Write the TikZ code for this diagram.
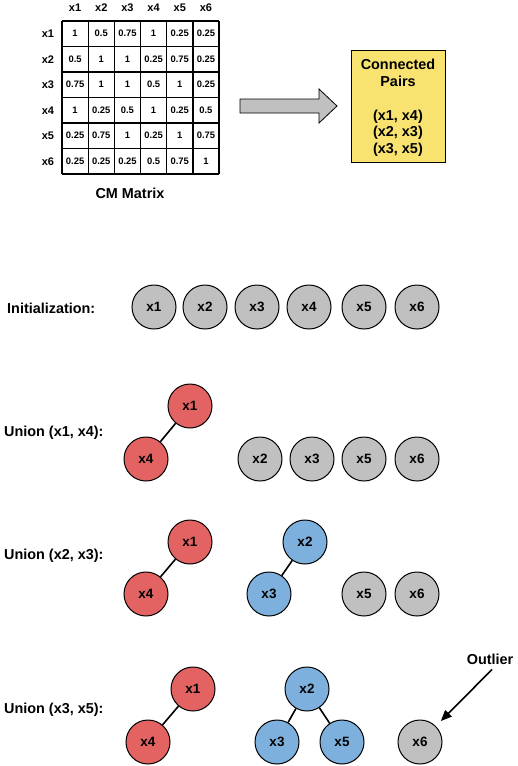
\documentclass[tikz,border=0pt]{standalone}
\usepackage{fontspec}
\setmainfont{Liberation Sans}
\usetikzlibrary{arrows.meta}
\definecolor{nodegray}{RGB}{192,192,192}
\definecolor{nodered}{RGB}{227,99,99}
\definecolor{nodeblue}{RGB}{126,176,222}
\definecolor{pairyellow}{RGB}{248,226,112}
\begin{document}
\begin{tikzpicture}[x=1pt,y=-1pt,
  elem/.style={circle, draw, line width=1pt, minimum size=44pt, inner sep=0pt, font=\fontsize{13.5}{16}\selectfont\bfseries},
  grayel/.style={elem, fill=nodegray},
  redel/.style={elem, fill=nodered},
  blueel/.style={elem, fill=nodeblue},
  rowlabel/.style={anchor=west, inner sep=0pt, font=\fontsize{14.4}{17}\selectfont\bfseries},
  link/.style={line width=1.6pt},
  gridline/.style={line width=1.3pt},
  hdr/.style={inner sep=0pt, font=\fontsize{11}{13}\selectfont\bfseries},
  cellnum/.style={inner sep=0pt, font=\fontsize{9.4}{11}\selectfont\bfseries},
  boxtext/.style={align=center, inner sep=0pt, font=\fontsize{14.4}{16.8}\selectfont\bfseries}
]
\useasboundingbox (0,0) rectangle (517,766);

% ---- CM matrix ----
\foreach \i in {0,...,6} {
  \draw[gridline] ({62+26.17*\i},21) -- ({62+26.17*\i},174);
  \draw[gridline] (62,{21+25.5*\i}) -- (219,{21+25.5*\i});
}
\foreach \c in {1,...,6} {
  \node[hdr] (col\c) at ({62+26.17*(\c-0.5)}, 8) {x\c};
  \node[hdr] (row\c) at (48, {21+25.5*(\c-0.5)}) {x\c};
}
\foreach \rowvals [count=\r] in {{1,0.5,0.75,1,0.25,0.25},{0.5,1,1,0.25,0.75,0.25},{0.75,1,1,0.5,1,0.25},{1,0.25,0.5,1,0.25,0.5},{0.25,0.75,1,0.25,1,0.75},{0.25,0.25,0.25,0.5,0.75,1}} {
  \foreach \v [count=\c] in \rowvals {
    \node[cellnum] (m\r\c) at ({62+26.17*(\c-0.5)}, {21+25.5*(\r-0.5)}) {\v};
  }
}
\node[inner sep=0pt, font=\fontsize{14.4}{17}\selectfont\bfseries] (cmlabel) at (130,193) {CM Matrix};

% ---- big arrow ----
\draw[fill=nodegray, line width=0.8pt] (240,99) -- (319,99) -- (319,89) -- (337,106) -- (319,123) -- (319,113) -- (240,113) -- cycle;

% ---- connected pairs box ----
\node[draw, fill=pairyellow, line width=1pt, minimum width=94pt, minimum height=112pt, anchor=north west, inner sep=0pt] (pairs) at (351,50) {};
\node[boxtext] (pairstext) at (398,108) {Connected\\Pairs\\[16.8pt](x1, x4)\\(x2, x3)\\(x3, x5)};

% ---- Initialization ----
\node[rowlabel] (linit) at (7,308) {Initialization:};
\node[grayel] (i1) at (154,307) {x1};
\node[grayel] (i2) at (205,307) {x2};
\node[grayel] (i3) at (257,307) {x3};
\node[grayel] (i4) at (309,307) {x4};
\node[grayel] (i5) at (364,307) {x5};
\node[grayel] (i6) at (417,307) {x6};

% ---- Union (x1, x4) ----
\node[rowlabel] (la) at (4,433) {Union (x1, x4):};
\node[redel] (a1) at (190,406) {x1};
\node[redel] (a4) at (146,459) {x4};
\node[grayel] (a2) at (260,459) {x2};
\node[grayel] (a3) at (312,459) {x3};
\node[grayel] (a5) at (364,459) {x5};
\node[grayel] (a6) at (417,459) {x6};
\draw[link] (a1) -- (a4);

% ---- Union (x2, x3) ----
\node[rowlabel] (lb) at (4,556) {Union (x2, x3):};
\node[redel] (b1) at (190,542) {x1};
\node[redel] (b4) at (146,594) {x4};
\node[blueel] (b2) at (305,542) {x2};
\node[blueel] (b3) at (269,594) {x3};
\node[grayel] (b5) at (364,594) {x5};
\node[grayel] (b6) at (417,594) {x6};
\draw[link] (b1) -- (b4);
\draw[link] (b2) -- (b3);

% ---- Union (x3, x5) ----
\node[rowlabel] (lc) at (4,710) {Union (x3, x5):};
\node[redel] (c1) at (193,689) {x1};
\node[redel] (c4) at (148,742) {x4};
\node[blueel] (c2) at (307,689) {x2};
\node[blueel] (c3) at (277,742) {x3};
\node[blueel] (c5) at (342,742) {x5};
\node[grayel] (c6) at (420,742) {x6};
\draw[link] (c1) -- (c4);
\draw[link] (c2) -- (c3);
\draw[link] (c2) -- (c5);

\node[inner sep=1pt, font=\fontsize{14.4}{17}\selectfont\bfseries] (outlier) at (490,659) {Outlier};
\draw[line width=1.6pt, -{Triangle[length=11pt,width=9pt]}, shorten >=7pt] (outlier.south) ++(2,4) coordinate (ostart) -- (c6);
\end{tikzpicture}
\end{document}
